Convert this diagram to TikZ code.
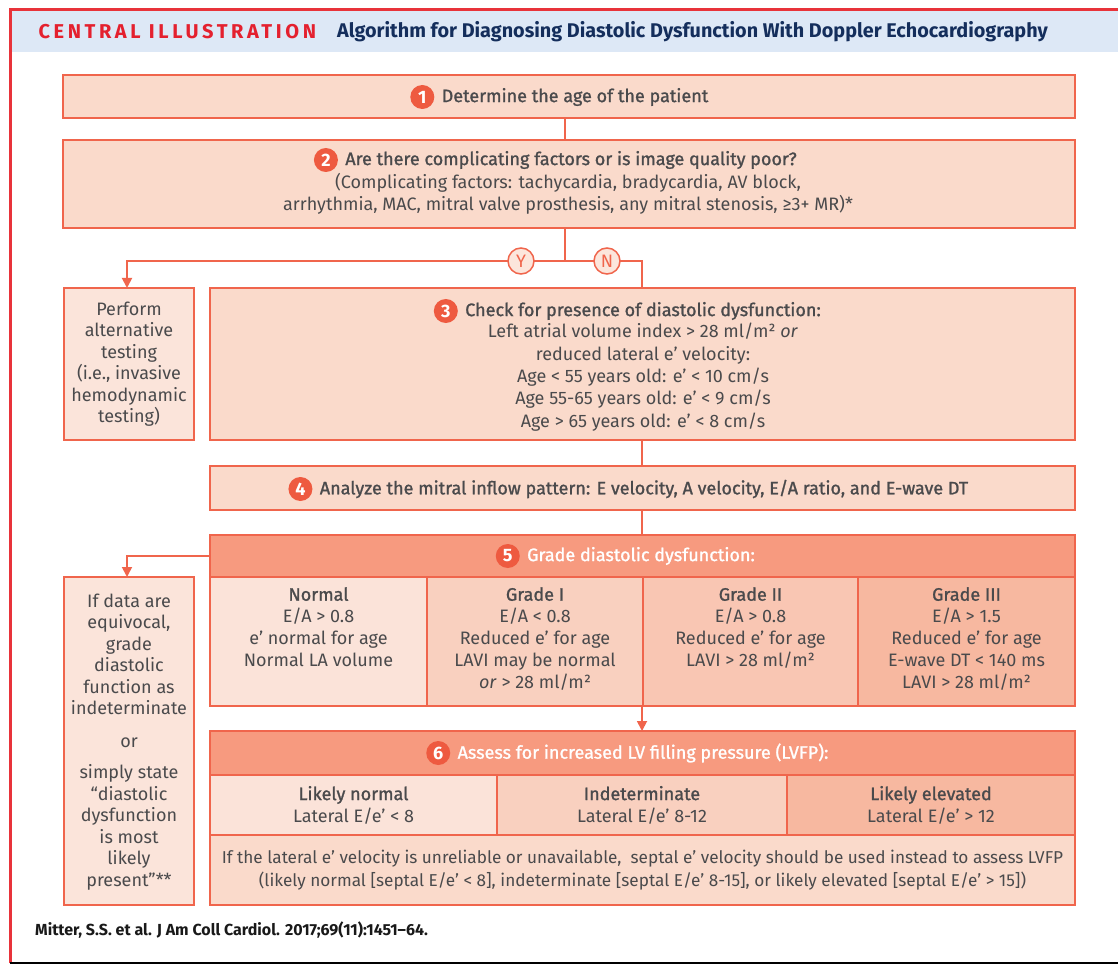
\documentclass[tikz,border=0pt]{standalone}
\usepackage{fontspec}
\setmainfont{Fira Sans}
\IfFontExistsTF{FiraSans-Medium.otf}{\newfontfamily\medfont{FiraSans-Medium.otf}}{\newfontfamily\medfont{Fira Sans}[FakeBold=1.2]}
\usetikzlibrary{arrows.meta,fit,calc}
\definecolor{coral}{HTML}{F0654C}
\definecolor{numred}{HTML}{EE5A40}
\definecolor{boxfill}{HTML}{FADACB}
\definecolor{sidefill}{HTML}{FBE4DA}
\definecolor{headfill}{HTML}{F79A7F}
\definecolor{c0fill}{HTML}{FBE3D9}
\definecolor{c1fill}{HTML}{F9D0BF}
\definecolor{c2fill}{HTML}{F9C6B3}
\definecolor{c3fill}{HTML}{F7B8A0}
\definecolor{ynfill}{HTML}{FCE6DC}
\definecolor{titleblue}{HTML}{DDE8F6}
\definecolor{titlered}{HTML}{E4202E}
\definecolor{navy}{HTML}{142E5C}
\definecolor{textgray}{HTML}{4A4A4C}
\definecolor{framered}{HTML}{E8333A}
\begin{document}
\begin{tikzpicture}[x=1pt,y=-1pt,
  box/.style={draw=coral,line width=1.8pt,inner sep=0pt,outer sep=0pt},
  txt/.style={text=textgray,font=\fontsize{18}{22}\selectfont,align=center,inner sep=0pt},
  mtxt/.style={txt,font=\fontsize{18}{22}\selectfont\medfont},
  htxt/.style={text=white,font=\fontsize{18}{20}\selectfont\medfont,inner sep=0pt},
  num/.style={circle,fill=numred,text=white,inner sep=0pt,minimum size=24pt,font=\fontsize{18}{18}\selectfont\bfseries},
  yn/.style={circle,draw=coral,line width=1.5pt,fill=ynfill,text=coral,minimum size=26pt,inner sep=0pt,font=\fontsize{18}{18}\selectfont},
  conn/.style={draw=coral,line width=1.8pt},
  arr/.style={conn,-{Triangle[length=10pt,width=10pt]}}]
\useasboundingbox (0,0) rectangle (1118,965);
\fill[white] (0,0) rectangle (1118,965);
% frame and title band
\fill[titleblue] (12,11) rectangle (1118,52);
\draw[framered,line width=3pt] (10,963) -- (10,9.5) -- (1118,9.5);
\draw[black,line width=2pt] (10,963) -- (1118,963);
\node[anchor=west,text=titlered,font=\fontsize{20}{20}\selectfont\bfseries\addfontfeatures{LetterSpace=18}] (ci) at (35,32) {CENTRAL ILLUSTRATION};
\node[anchor=west,text=navy,font=\fontsize{19.8}{20}\selectfont\bfseries] (tt) at ([xshift=14pt]ci.east) {Algorithm for Diagnosing Diastolic Dysfunction With Doppler Echocardiography};

% boxes
\node[box,fill=boxfill,fit={(63,75) (1075,118)}] (b1) {};
\node[box,fill=boxfill,fit={(63,140) (1075,228)}] (b2) {};
\node[box,fill=sidefill,fit={(64,288) (194,440)}] (alt) {};
\node[box,fill=boxfill,fit={(210,288) (1075,440)}] (b3) {};
\node[box,fill=boxfill,fit={(210,466) (1075,510)}] (b4) {};
\node[box,fill=headfill,fit={(210,535) (1075,577)}] (b5h) {};
\node[box,fill=c0fill,fit={(210,577) (427,706)}] (g0) {};
\node[box,fill=c1fill,fit={(427,577) (643,706)}] (g1) {};
\node[box,fill=c2fill,fit={(643,577) (858,706)}] (g2) {};
\node[box,fill=c3fill,fit={(858,577) (1075,706)}] (g3) {};
\node[box,fill=sidefill,fit={(64,577) (194,905)}] (eq) {};
\node[box,fill=headfill,fit={(210,731) (1075,775)}] (b6h) {};
\node[box,fill=c0fill,fit={(210,775) (497,835)}] (p0) {};
\node[box,fill=c1fill,fit={(497,775) (787,835)}] (p1) {};
\node[box,fill=c3fill,fit={(787,775) (1075,835)}] (p2) {};
\node[box,fill=boxfill,fit={(210,835) (1075,905)}] (note) {};

% texts
\node[mtxt] (t1) at (575,97) {Determine the age of the patient};
\node[num,anchor=east] (n1) at ([xshift=-7pt]t1.west) {1};
\node[mtxt] (t2a) at (571,160) {Are there complicating factors or is image quality poor?};
\node[num,anchor=east] (n2) at ([xshift=-7pt]t2a.west) {2};
\node[txt,anchor=north] (t2b) at (568,173) {(Complicating factors: tachycardia, bradycardia, AV block,\\arrhythmia, MAC, mitral valve prosthesis, any mitral stenosis, ≥3+ MR)*};
\node[txt,font=\fontsize{18}{21.5}\selectfont] (talt) at (129,364) {Perform\\alternative\\testing\\(i.e., invasive\\hemodynamic\\testing)};
\node[mtxt] (t3a) at (643,311) {Check for presence of diastolic dysfunction:};
\node[num,anchor=east] (n3) at ([xshift=-7pt]t3a.west) {3};
\node[txt,anchor=north,font=\fontsize{18}{22.4}\selectfont] (t3b) at (643,323) {Left atrial volume index > 28 ml/m² \textit{or}\\reduced lateral e’ velocity:\\Age < 55 years old: e’ < 10 cm/s\\Age 55-65 years old: e’ < 9 cm/s\\Age > 65 years old: e’ < 8 cm/s};
\node[mtxt] (t4) at (644,489) {Analyze the mitral inflow pattern: E velocity, A velocity, E/A ratio, and E-wave DT};
\node[num,anchor=east] (n4) at ([xshift=-7pt]t4.west) {4};
\node[htxt] (t5) at (641,556) {Grade diastolic dysfunction:};
\node[num,anchor=east] (n5) at ([xshift=-7pt]t5.west) {5};
\node[txt,anchor=north] (tg0) at ($(g0.north)+(0,10)$) {{\medfont Normal}\\E/A > 0.8\\e’ normal for age\\Normal LA volume};
\node[txt,anchor=north] (tg1) at ($(g1.north)+(0,10)$) {{\medfont Grade I}\\E/A < 0.8\\Reduced e’ for age\\LAVI may be normal\\\textit{or} > 28 ml/m²};
\node[txt,anchor=north] (tg2) at ($(g2.north)+(0,10)$) {{\medfont Grade II}\\E/A > 0.8\\Reduced e’ for age\\LAVI > 28 ml/m²};
\node[txt,anchor=north] (tg3) at ($(g3.north)+(0,10)$) {{\medfont Grade III}\\E/A > 1.5\\Reduced e’ for age\\E-wave DT < 140 ms\\LAVI > 28 ml/m²};
\node[txt,font=\fontsize{18}{21.5}\selectfont] (teq) at (129,742) {If data are\\equivocal,\\grade\\diastolic\\function as\\indeterminate\\[11pt]or\\[10pt]simply state\\“diastolic\\dysfunction\\is most\\likely\\present”**};
\node[htxt] (t6) at (643,753) {Assess for increased LV filling pressure (LVFP):};
\node[num,anchor=east] (n6) at ([xshift=-7pt]t6.west) {6};
\node[txt] (tp0) at (p0.center) {{\medfont Likely normal}\\Lateral E/e' < 8};
\node[txt] (tp1) at (p1.center) {{\medfont Indeterminate}\\Lateral E/e' 8-12};
\node[txt] (tp2) at (p2.center) {{\medfont Likely elevated}\\Lateral E/e' > 12};
\node[txt,font=\fontsize{17.2}{22.5}\selectfont] (tnote) at (note.center) {If the lateral e' velocity is unreliable or unavailable,\ \ septal e' velocity should be used instead to assess LVFP\\(likely normal [septal E/e' < 8], indeterminate [septal E/e' 8-15], or likely elevated [septal E/e' > 15])};
\node[anchor=west,inner sep=0pt,text=black!90,font=\fontsize{16}{16}\selectfont\bfseries] (cite) at (35,930) {Mitter, S.S. et al. J Am Coll Cardiol. 2017;69(11):1451–64.};

% connectors
\coordinate (xa) at (565,0);
\coordinate (xb) at (127,0);
\coordinate (xc) at (642,0);
\coordinate (ys) at (0,261);
\draw[conn] (b1.south -| xa) -- (b2.north -| xa);
\draw[conn] (b2.south -| xa) -- (xa |- ys);
\draw[arr] (xa |- ys) -- (xb |- ys) -- (alt.north -| xb);
\draw[conn] (xa |- ys) -- (xc |- ys) -- (b3.north -| xc);
\draw[conn] (b3.south -| xc) -- (b4.north -| xc);
\draw[conn] (b4.south -| xc) -- (b5h.north -| xc);
\draw[arr] (b5h.west) -- (xb |- b5h.west) -- (eq.north -| xb);
\draw[arr] (g1.south -| xc) -- (b6h.north -| xc);
\node[yn] (Y) at (521,261) {Y};
\node[yn] (N) at (607,261) {N};
\end{tikzpicture}
\end{document}
